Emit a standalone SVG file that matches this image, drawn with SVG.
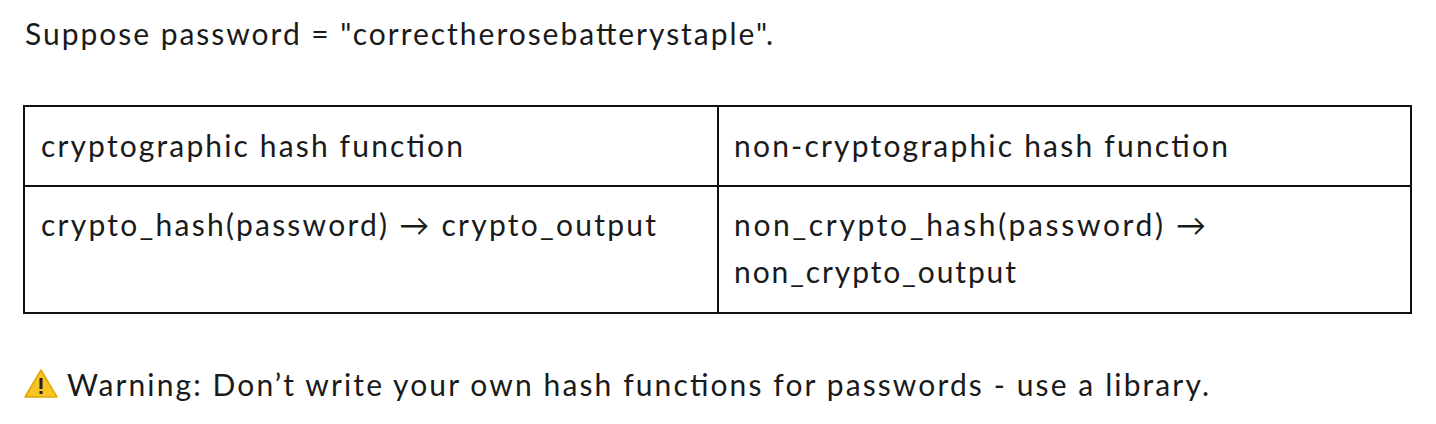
<svg xmlns="http://www.w3.org/2000/svg" width="1436" height="424" viewBox="0 0 1436 424">
<style>
text{font-family:Lato,"Noto Sans",sans-serif;font-size:30px;fill:#1a1a1a}
.l{stroke:#111;stroke-width:2;fill:none}
</style>
<rect width="1436" height="424" fill="#fff"/>
<text x="25" y="45" textLength="748">Suppose password = "correctherosebatterystaple".</text>
<g id="table">
<rect class="l" x="24" y="106" width="1387" height="207"/>
<line class="l" x1="718" y1="106" x2="718" y2="313"/>
<line class="l" x1="24" y1="186" x2="1411" y2="186"/>
</g>
<g id="c1"><text x="41" y="157" textLength="422">cryptographic hash function</text></g>
<g id="c2"><text x="734" y="157" textLength="494">non-cryptographic hash function</text></g>
<g id="c3"><text x="41" y="236" textLength="615">crypto_hash(password) → crypto_output</text></g>
<g id="c4"><text x="734" y="236" textLength="472">non_crypto_hash(password) →</text><text x="734" y="283" textLength="282">non_crypto_output</text></g>
<g id="warn">
<path d="M41 370 L57 397 L25 397 Z" fill="#f7c325" stroke="#e0a800" stroke-width="1.5" stroke-linejoin="round"/>
<rect x="39.5" y="378" width="3" height="11" fill="#222"/>
<rect x="39.5" y="391" width="3" height="3" fill="#222"/>
<text x="67" y="396" textLength="1142">Warning: Don’t write your own hash functions for passwords - use a library.</text>
</g>
</svg>
